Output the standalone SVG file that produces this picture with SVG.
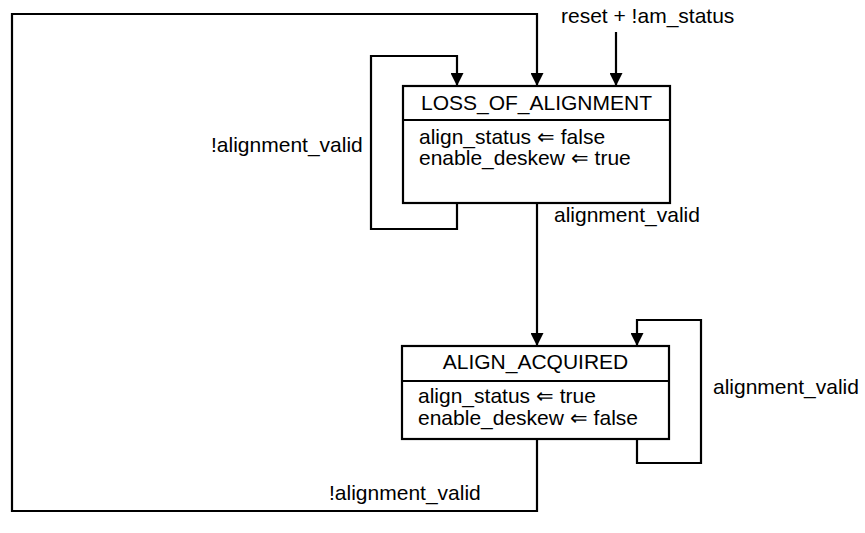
<svg xmlns="http://www.w3.org/2000/svg" width="865" height="533" viewBox="0 0 865 533">
<style>
text{font-family:"Liberation Sans",Arial,sans-serif;font-size:21px;fill:#000}
.box{fill:#fff;stroke:#000;stroke-width:2.2}
.ln{fill:none;stroke:#000;stroke-width:2.2}
.c{text-anchor:middle}
</style>
<defs>
<marker id="ah" markerWidth="14" markerHeight="13" refX="14" refY="7" orient="auto" markerUnits="userSpaceOnUse" viewBox="0 0 14 14">
<path d="M0,0 L14,7 L0,14 Z" fill="#000"/>
</marker>
</defs>
<rect width="865" height="533" fill="#fff"/>
<g id="connectors">
<path class="ln" d="M616,32 V86" marker-end="url(#ah)"/>
<path class="ln" d="M457,203 V229 H371 V56 H457 V86" marker-end="url(#ah)"/>
<path class="ln" d="M537,203 V346" marker-end="url(#ah)"/>
<path class="ln" d="M637,439 V463 H701 V320 H637 V346" marker-end="url(#ah)"/>
<path class="ln" d="M537,439 V511 H12 V14 H537 V86" marker-end="url(#ah)"/>
<text x="561" y="23">reset + !am_status</text>
<text x="211" y="152">!alignment_valid</text>
<text x="554" y="222">alignment_valid</text>
<text x="713" y="394">alignment_valid</text>
<text x="329" y="500">!alignment_valid</text>
</g>
<g id="loss_of_alignment">
<rect class="box" x="403" y="86" width="267" height="117"/>
<line class="ln" x1="403" y1="120" x2="670" y2="120"/>
<text class="c" x="536.5" y="110">LOSS_OF_ALIGNMENT</text>
<text x="419" y="144">align_status ⇐ false</text>
<text x="419" y="165">enable_deskew ⇐ true</text>
</g>
<g id="align_acquired">
<rect class="box" x="402" y="346" width="267" height="93"/>
<line class="ln" x1="402" y1="381" x2="669" y2="381"/>
<text class="c" x="535.5" y="369">ALIGN_ACQUIRED</text>
<text x="418" y="403">align_status ⇐ true</text>
<text x="418" y="425">enable_deskew ⇐ false</text>
</g>
</svg>
